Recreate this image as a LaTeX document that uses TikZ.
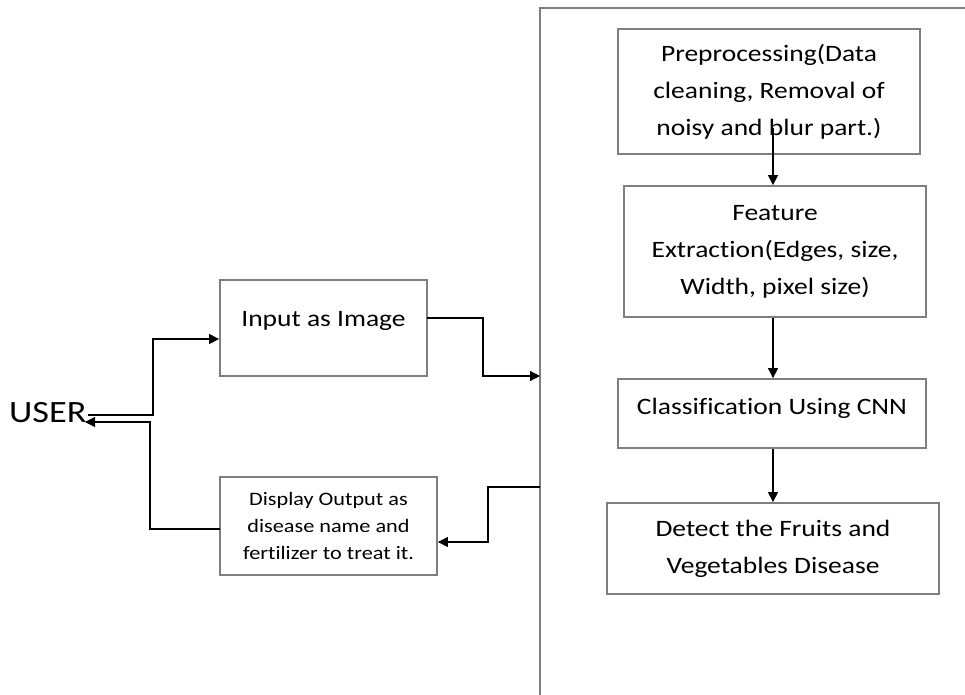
\documentclass[tikz,border=0pt]{standalone}
\usepackage{fontspec}
\setmainfont{Carlito}[FakeStretch=1.17,Ligatures=NoCommon]
\usetikzlibrary{arrows.meta}
\definecolor{boxgray}{HTML}{7F7F7F}
\begin{document}
\begin{tikzpicture}[x=1pt,y=-1pt,
  boxline/.style={draw=boxgray,line width=1.8pt},
  box/.style={boxline,rectangle,inner sep=0pt,align=center,
    font=\fontsize{23.5}{37}\selectfont},
  smallbox/.style={box,font=\fontsize{19}{27}\selectfont},
  lbl/.style={inner sep=0pt,align=center,font=\fontsize{23.5}{37}\selectfont},
  conn/.style={draw=black,line width=1.1pt},
  arr/.style={conn,-{Triangle[length=10pt,width=10pt]}}]
\useasboundingbox[fill=white] (0,0) rectangle (965,695);

% container (open on right and bottom)
\coordinate (cTR) at (965,8);
\coordinate (cTL) at (540,8);
\coordinate (cBL) at (540,695);
\draw[boxline] (cTR) -- (cTL) -- (cBL);

% right column
\node[box,minimum width=302pt,minimum height=125pt] (pre) at (769,91.5)
  {Preprocessing(Data\\cleaning, Removal of\\noisy and blur part.)};
\node[box,minimum width=302pt,minimum height=131pt] (feat) at (775,251.5)
  {Feature\\Extraction(Edges, size,\\Width, pixel size)};
\node[box,minimum width=308pt,minimum height=69pt] (cls) at (772,413.5) {};
\node[lbl] (clstext) at (772,408) {Classification Using CNN};
\node[box,minimum width=332pt,minimum height=91pt] (det) at (773,548.5)
  {Detect the Fruits and\\Vegetables Disease};

% left column
\node[box,minimum width=207pt,minimum height=96pt] (inp) at (323.5,328) {};
\node[lbl] (inptext) at (323.5,321) {Input as Image};
\node[smallbox,minimum width=217pt,minimum height=98pt] (disp) at (328.5,526)
  {Display Output as\\disease name and\\fertilizer to treat it.};

\node[inner sep=0pt,anchor=base west,font=\fontsize{31}{37}\selectfont] (user) at (9,422) {USER};

% vertical flow
\coordinate (ax) at (773,0);
\coordinate (p0) at (773,128);
\draw[arr] (p0) -- (p0 |- feat.north);
\draw[arr] (ax |- feat.south) -- (ax |- cls.north);
\draw[arr] (ax |- cls.south) -- (ax |- det.north);

% input to container
\coordinate (i0) at (427,318);
\coordinate (i1) at (483,376);
\draw[arr] (i0) -| (i1) -- (cTL |- i1);

% container to display
\coordinate (o0) at (540,487);
\coordinate (o1) at (488,542);
\draw[arr] (o0) -| (o1) -- (disp.east |- o1);

% user to input
\coordinate (u0) at (88,415);
\coordinate (u1) at (153,339);
\draw[arr] (u0) -| (u1) -- (inp.west |- u1);

% display to user
\coordinate (d0) at (220,529);
\coordinate (d1) at (150,422);
\coordinate (d2) at (85,422);
\draw[arr] (d0) -| (d1) -- (d2);
\end{tikzpicture}
\end{document}
